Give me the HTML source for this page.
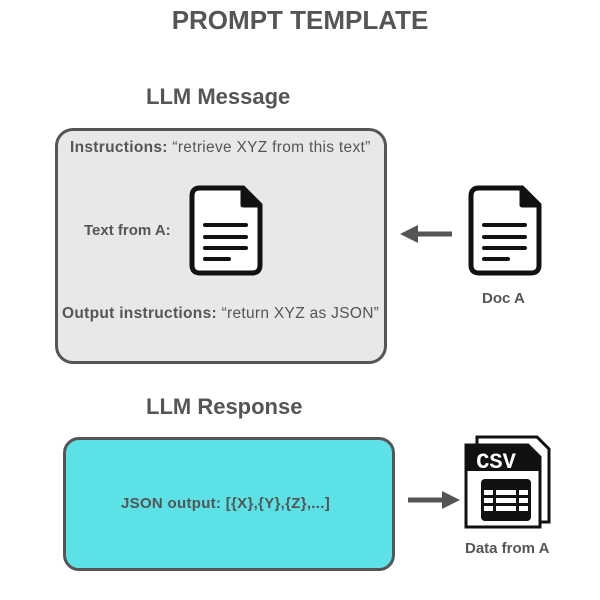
<!DOCTYPE html>
<html><head><style>
body{margin:0;width:600px;height:600px;background:#fff;font-family:"Liberation Sans",sans-serif;position:relative;overflow:hidden}
.t{position:absolute;color:#555;font-weight:bold;white-space:nowrap}
</style></head><body>
<div class="t" style="left:0;width:600px;text-align:center;top:5px;font-size:26px;">PROMPT TEMPLATE</div>
<div class="t" style="left:146px;top:84px;font-size:22px;">LLM Message</div>
<div style="position:absolute;left:55px;top:128px;width:326px;height:230px;background:#e8e8e8;border:3px solid #555;border-radius:18px"></div>
<div class="t" style="left:70px;top:139px;font-size:15.5px;letter-spacing:0.3px">Instructions: <span style="font-weight:normal">“retrieve XYZ from this text”</span></div>
<div class="t" style="left:84px;top:222px;font-size:15px;">Text from A:</div>
<div class="t" style="left:62px;top:305px;font-size:15.5px;letter-spacing:0.3px">Output instructions: <span style="font-weight:normal">“return XYZ as JSON”</span></div>
<svg style="position:absolute;left:0;top:0" width="600" height="600">
<g fill="none" stroke="#111" stroke-width="5" stroke-linejoin="round">
<path d="M200 188 H243 L260 205 V265 Q260 273 252 273 H200 Q192 273 192 265 V196 Q192 188 200 188Z" fill="#fff"/>
<path d="M243 188 V205 H260Z" fill="#111"/>
<path d="M479 188 H522 L539 205 V265 Q539 273 531 273 H479 Q471 273 471 265 V196 Q471 188 479 188Z" fill="#fff"/>
<path d="M522 188 V205 H539Z" fill="#111"/>
</g>
<g stroke="#111" stroke-width="4" stroke-linecap="round">
<line x1="205" y1="225" x2="246" y2="225"/><line x1="205" y1="237" x2="246" y2="237"/><line x1="205" y1="248" x2="246" y2="248"/><line x1="205" y1="259" x2="229" y2="259"/>
<line x1="484" y1="225" x2="525" y2="225"/><line x1="484" y1="237" x2="525" y2="237"/><line x1="484" y1="248" x2="525" y2="248"/><line x1="484" y1="259" x2="508" y2="259"/>
</g>
<path d="M452 234 H416" stroke="#555" stroke-width="5"/>
<path d="M400 234 L418 225 V243Z" fill="#555"/>
<path d="M408 500 H444" stroke="#555" stroke-width="5"/>
<path d="M460 500 L442 491 V509Z" fill="#555"/>
<path d="M477 437 H537 L549 449 V522 H477Z" fill="#fff" stroke="#111" stroke-width="3"/>
<path d="M466 445 H528 L540 457 V527 H466Z" fill="#fff" stroke="#111" stroke-width="3"/>
<path d="M466 445 H528 L540 457 V471 H466Z" fill="#111"/>
<rect x="481" y="479" width="50" height="42" rx="4" fill="#111"/>
<g fill="#fff"><rect x="484" y="490" width="9" height="5"/><rect x="496" y="490" width="20" height="5"/><rect x="519" y="490" width="9" height="5"/>
<rect x="484" y="498" width="9" height="5"/><rect x="496" y="498" width="20" height="5"/><rect x="519" y="498" width="9" height="5"/>
<rect x="484" y="506" width="9" height="5"/><rect x="496" y="506" width="20" height="5"/><rect x="519" y="506" width="9" height="5"/></g>
<text x="496" y="468" font-family="Liberation Mono,monospace" font-weight="bold" font-size="22" fill="#fff" text-anchor="middle">CSV</text>
</svg>
<div class="t" style="left:482px;top:290px;font-size:15px;">Doc A</div>
<div class="t" style="left:146px;top:394px;font-size:22px;">LLM Response</div>
<div style="position:absolute;left:63px;top:437px;width:326px;height:128px;background:#5ce1e6;border:3px solid #555;border-radius:16px"></div>
<div class="t" style="left:121px;top:495px;font-size:15px;letter-spacing:0.3px">JSON output: [{X},{Y},{Z},...]</div>
<div class="t" style="left:465px;top:540px;font-size:15px;">Data from A</div>
</body></html>
